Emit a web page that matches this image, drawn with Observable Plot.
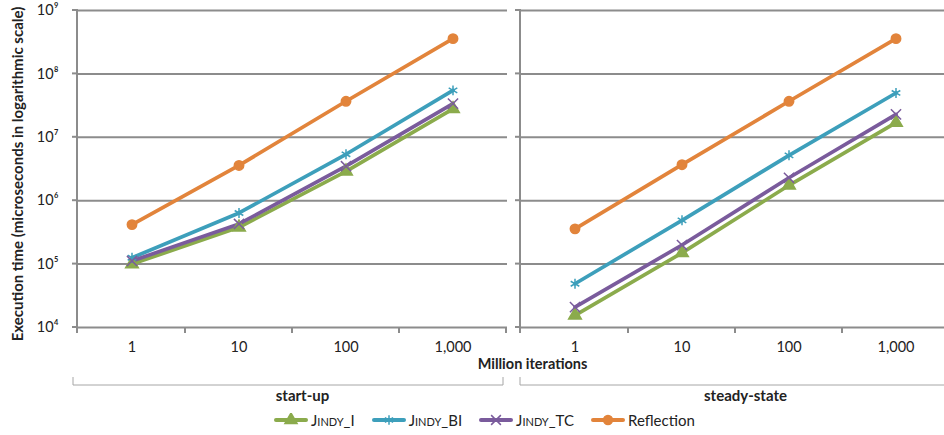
<!DOCTYPE html>
<html><head><meta charset="utf-8">
<script src="https://cdn.jsdelivr.net/npm/d3@7"></script>
<script src="https://cdn.jsdelivr.net/npm/@observablehq/plot@0.6"></script>
<style>
html,body{margin:0;padding:0;background:#fff;overflow:hidden;}
body{width:944px;height:435px;font-family:Lato,"Open Sans",sans-serif;}
#legend{display:flex;align-items:center;height:30px;margin-left:274px;font-size:15px;color:#222;}
.item{display:flex;align-items:center;margin-right:17px;}
.item span{margin-left:3px;}
.item span.sc{font-variant:small-caps;}
</style></head><body>
<div id="chart"></div><div id="legend"></div>
<script>
const panels = ["start-up", "steady-state"];
const iterations = ["1", "10", "100", "1,000"];
const seriesNames = ["Jindy_I", "Jindy_BI", "Jindy_TC", "Reflection"];
const seriesColors = ["#8bab4c", "#3d9fbb", "#7a5b9c", "#e2843b"];
const seriesSymbols = ["triangle", "asterisk", "times", "circle"];
const yTicks = [1e4, 1e5, 1e6, 1e7, 1e8, 1e9];
const xLabel = "Million iterations";
const yLabel = "Execution time (microseconds in logarithmic scale)";

const startupI = [1.0e5, 3.8e5, 2.9e6, 2.8e7];
const startupBI = [1.26e5, 6.4e5, 5.4e6, 5.5e7];
const startupTC = [1.12e5, 4.3e5, 3.5e6, 3.4e7];
const startupReflection = [4.2e5, 3.6e6, 3.7e7, 3.6e8];
const steadyI = [1.55e4, 1.5e5, 1.75e6, 1.7e7];
const steadyBI = [4.9e4, 4.9e5, 5.2e6, 5.0e7];
const steadyTC = [2.1e4, 2.0e5, 2.3e6, 2.3e7];
const steadyReflection = [3.6e5, 3.7e6, 3.7e7, 3.6e8];

const table = {
  "start-up": [startupI, startupBI, startupTC, startupReflection],
  "steady-state": [steadyI, steadyBI, steadyTC, steadyReflection]
};
const rows = [];
for (const p of panels) {
  table[p].forEach((vals, si) => {
    vals.forEach((v, i) => rows.push({panel: p, series: seriesNames[si], iter: iterations[i], value: v}));
  });
}

const sup = {"0":"⁰","1":"¹","2":"²","3":"³","4":"⁴","5":"⁵","6":"⁶","7":"⁷","8":"⁸","9":"⁹"};
const fmtPow = d => "10" + String(Math.round(Math.log10(d))).split("").map(c => sup[c]).join("");

function decor() {
  let k = 0;
  return (index, scales, values, dims) => {
    const panel = k++ % 2;
    const x = scales.x, y = scales.y;
    const [x0, x1] = x.range();
    const yb = y(1e4), yt = y(1e9);
    const g = d3.create("svg:g").attr("fill", "none");
    const ax = g.append("g").attr("stroke", "#8c8c8c").attr("stroke-width", 2);
    ax.append("line").attr("x1", x0).attr("x2", x0).attr("y1", yt - 1).attr("y2", yb + 6);
    for (const t of yTicks) ax.append("line").attr("x1", x0 - 5).attr("x2", x0).attr("y1", y(t)).attr("y2", y(t));
    for (const d of x.domain()) {
      const xe = x(d) + x.bandwidth();
      ax.append("line").attr("x1", xe).attr("x2", xe).attr("y1", yb).attr("y2", yb + 6);
    }
    const bl = panel === 0 ? x0 - 4 : x0;
    const br = panel === 0 ? x1 - 4 : x1;
    g.append("path").attr("stroke", "#a6a6a6").attr("stroke-width", 1)
      .attr("d", `M${bl},${yb + 50}V${yb + 58}H${br}V${yb + 50}`);
    return g.node();
  };
}

const chart = Plot.plot({
  width: 944, height: 405,
  marginLeft: 77, marginRight: -7, marginTop: 10, marginBottom: 78,
  style: {fontFamily: "Lato, 'Open Sans', sans-serif", fontSize: "14px", color: "#222", background: "#fff", overflow: "visible"},
  fx: {domain: panels, paddingInner: 0.0293, paddingOuter: 0, axis: null},
  x: {domain: iterations, type: "band", padding: 0, axis: null},
  y: {type: "log", domain: [1e4, 1e9], axis: null},
  color: {domain: seriesNames, range: seriesColors},
  symbol: {domain: seriesNames, range: seriesSymbols},
  marks: [
    Plot.ruleY(yTicks, {stroke: "#8c8c8c", strokeWidth: 2}),
    decor(),
    Plot.line(rows, {fx: "panel", x: "iter", y: "value", z: "series", stroke: "series", strokeWidth: 3.7}),
    Plot.dot(rows, {fx: "panel", x: "iter", y: "value", symbol: "series", fill: "series", stroke: "series", strokeWidth: 1.5, r: 4.7}),
    Plot.axisY({ticks: yTicks, tickSize: 0, tickPadding: 19, tickFormat: fmtPow, label: null, fontSize: 14.5}),
    Plot.text([{p: "start-up"}], {fx: "p", text: () => yLabel, frameAnchor: "left", rotate: -90, dx: -59, dy: 5, textAnchor: "middle", fontWeight: "bold", fontSize: 15}),
    Plot.axisX({tickSize: 0, tickPadding: 14, label: null, fontSize: 14.5}),
    Plot.axisFx({anchor: "bottom", tickSize: 0, tickPadding: 63, label: null, fontWeight: "bold", fontSize: 15, dx: 10}),
    Plot.text([{p: "steady-state"}], {fx: "p", text: () => xLabel, frameAnchor: "bottom-left", dx: 12, dy: 41, textAnchor: "middle", fontWeight: "bold", fontSize: 14.5})
  ]
});
document.getElementById("chart").append(chart);

const symMap = {triangle: d3.symbolTriangle, asterisk: d3.symbolAsterisk, times: d3.symbolTimes, circle: d3.symbolCircle};
const legend = d3.select("#legend");
seriesNames.forEach((name, i) => {
  const item = legend.append("div").attr("class", "item");
  const s = item.append("svg").attr("width", 34).attr("height", 14);
  s.append("line").attr("x1", 2).attr("x2", 32).attr("y1", 7).attr("y2", 7)
    .attr("stroke", seriesColors[i]).attr("stroke-width", 4).attr("stroke-linecap", "round");
  s.append("path").attr("transform", "translate(17,7)")
    .attr("d", d3.symbol(symMap[seriesSymbols[i]], Math.PI * 4.5 * 4.5)())
    .attr("fill", seriesColors[i]).attr("stroke", seriesColors[i]).attr("stroke-width", 1.5);
  item.append("span").attr("class", name.startsWith("Jindy") ? "sc" : null).text(name);
});
</script></body></html>
